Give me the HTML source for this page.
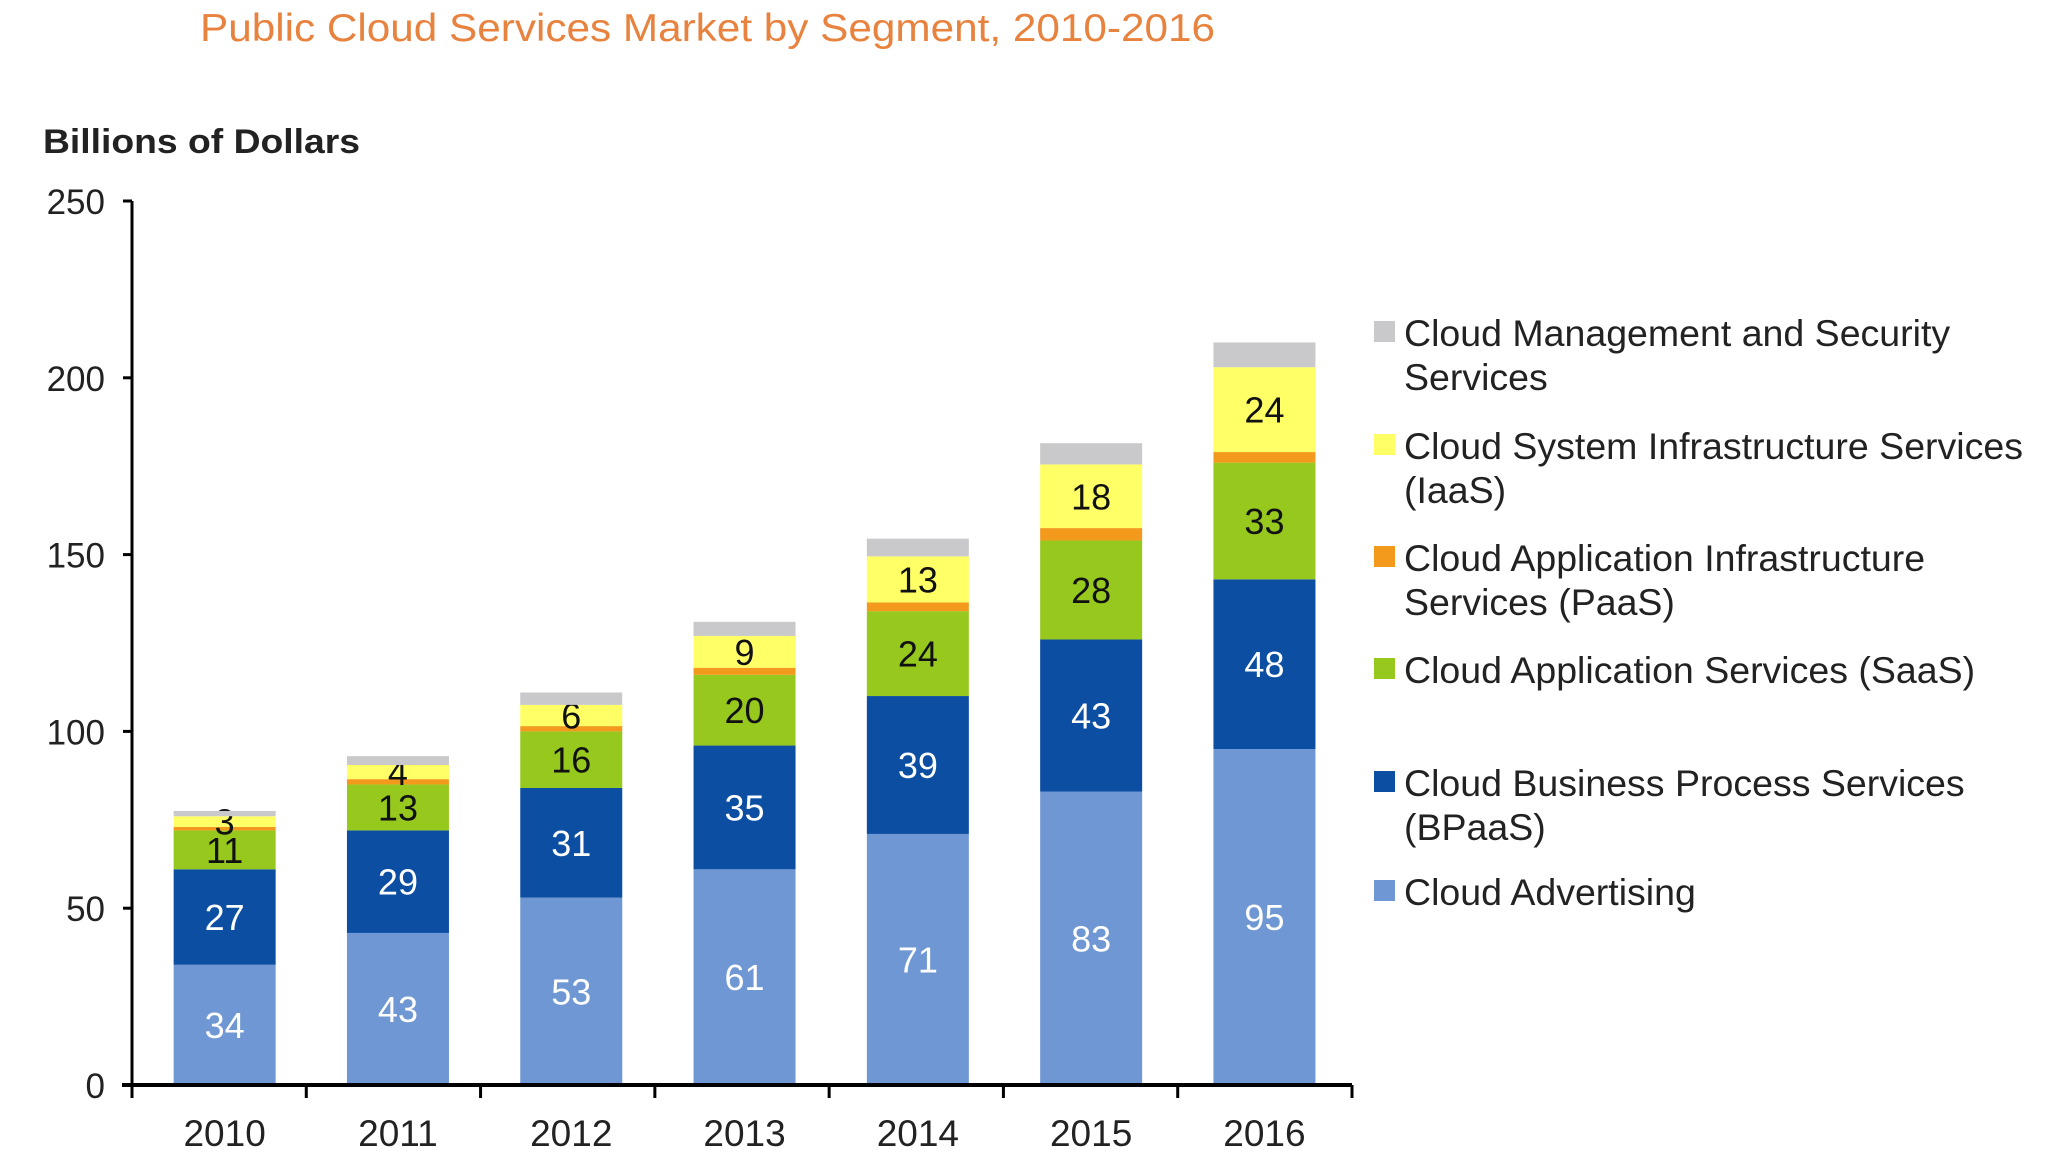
<!DOCTYPE html>
<html><head><meta charset="utf-8"><style>
body{margin:0;background:#fff;width:2048px;height:1152px;overflow:hidden;font-family:"Liberation Sans",sans-serif}
</style></head><body>
<svg id="c" width="2048" height="1152" xmlns="http://www.w3.org/2000/svg">
<text x="200" y="41" font-size="39" textLength="1015" lengthAdjust="spacingAndGlyphs" fill="#e8833f">Public Cloud Services Market by Segment, 2010-2016</text>
<text x="43" y="153" font-size="34" font-weight="bold" textLength="317" lengthAdjust="spacingAndGlyphs" fill="#222">Billions of Dollars</text>
<g id="g"></g>
</svg>
<script>
const years=["2010","2011","2012","2013","2014","2015","2016"];
const advertising=[34,43,53,61,71,83,95];
const bpaas=[27,29,31,35,39,43,48];
const saas=[11,13,16,20,24,28,33];
const paas=[1,1.5,1.5,2,2.5,3.5,3];
const iaas=[3,4,6,9,13,18,24];
const mgmt=[1.5,2.5,3.5,4,5,6,7];
const yTicks=[0,50,100,150,200,250];
const series=[advertising,bpaas,saas,paas,iaas,mgmt];
const colors=["#6f97d3","#0b4ea2","#96c81e","#f39a1c","#ffff66","#c9c9cb"];
const textCol=["#fff","#fff","#111",null,"#111",null];
const NS="http://www.w3.org/2000/svg";
const g=document.getElementById('g');
const X0=132,X1=1352,Y0=1085,Y250=201;
const y=v=>Y0-(v/250)*(Y0-Y250);
const step=(X1-X0)/years.length;
const barStep=173.3;
const xc=i=>X0+barStep*(i+0.5)+6;
const bw=102;
function mk(t,a,txt){const e=document.createElementNS(NS,t);for(const k in a)e.setAttribute(k,a[k]);if(txt!==undefined)e.textContent=txt;g.appendChild(e);return e;}
years.forEach((yr,i)=>{
  let base=0;
  series.forEach((s,si)=>{
    const v=s[i];
    const r=mk('rect',{x:xc(i)-bw/2,y:y(base+v),width:bw,height:y(base)-y(base+v),fill:colors[si]});
    
    
    if(textCol[si]){
      const t=mk('text',{x:xc(i),y:y(base+v/2)+13,'text-anchor':'middle','font-size':36,fill:textCol[si]},String(v));
      
      
    }
    base+=v;
  });
  const lt=mk('text',{x:xc(i),y:1146,'text-anchor':'middle','font-size':37,fill:'#222'},yr);
  
  
});
const ya=mk('line',{x1:X0,y1:Y250,x2:X0,y2:Y0,stroke:'#000','stroke-width':3});


const xa=mk('line',{x1:X0-10,y1:Y0,x2:X1,y2:Y0,stroke:'#000','stroke-width':4});


for(let i=0;i<=years.length;i++){mk('line',{x1:X0+step*i,y1:Y0,x2:X0+step*i,y2:Y0+13,stroke:'#000','stroke-width':3});}
yTicks.forEach(v=>{
  mk('line',{x1:X0-9,y1:y(v),x2:X0,y2:y(v),stroke:'#000','stroke-width':3});
  const t=mk('text',{x:105,y:y(v)+13,'text-anchor':'end','font-size':35,fill:'#222'},String(v));
  
  
});
const legend=[[5,["Cloud Management and Security","Services"],346],[4,["Cloud System Infrastructure Services","(IaaS)"],459],[3,["Cloud Application Infrastructure","Services (PaaS)"],571],[2,["Cloud Application Services (SaaS)"],683],[1,["Cloud Business Process Services","(BPaaS)"],796],[0,["Cloud Advertising"],905]];
legend.forEach(([si,lines,ly])=>{
  const r=mk('rect',{x:1374,y:ly-25,width:21,height:21,fill:colors[si]});
  
  
  lines.forEach((ln,k)=>{
    const t=mk('text',{x:1404,y:ly+k*44,'font-size':37.5,fill:'#222'},ln);
    
    
  });
});
</script>
</body></html>
